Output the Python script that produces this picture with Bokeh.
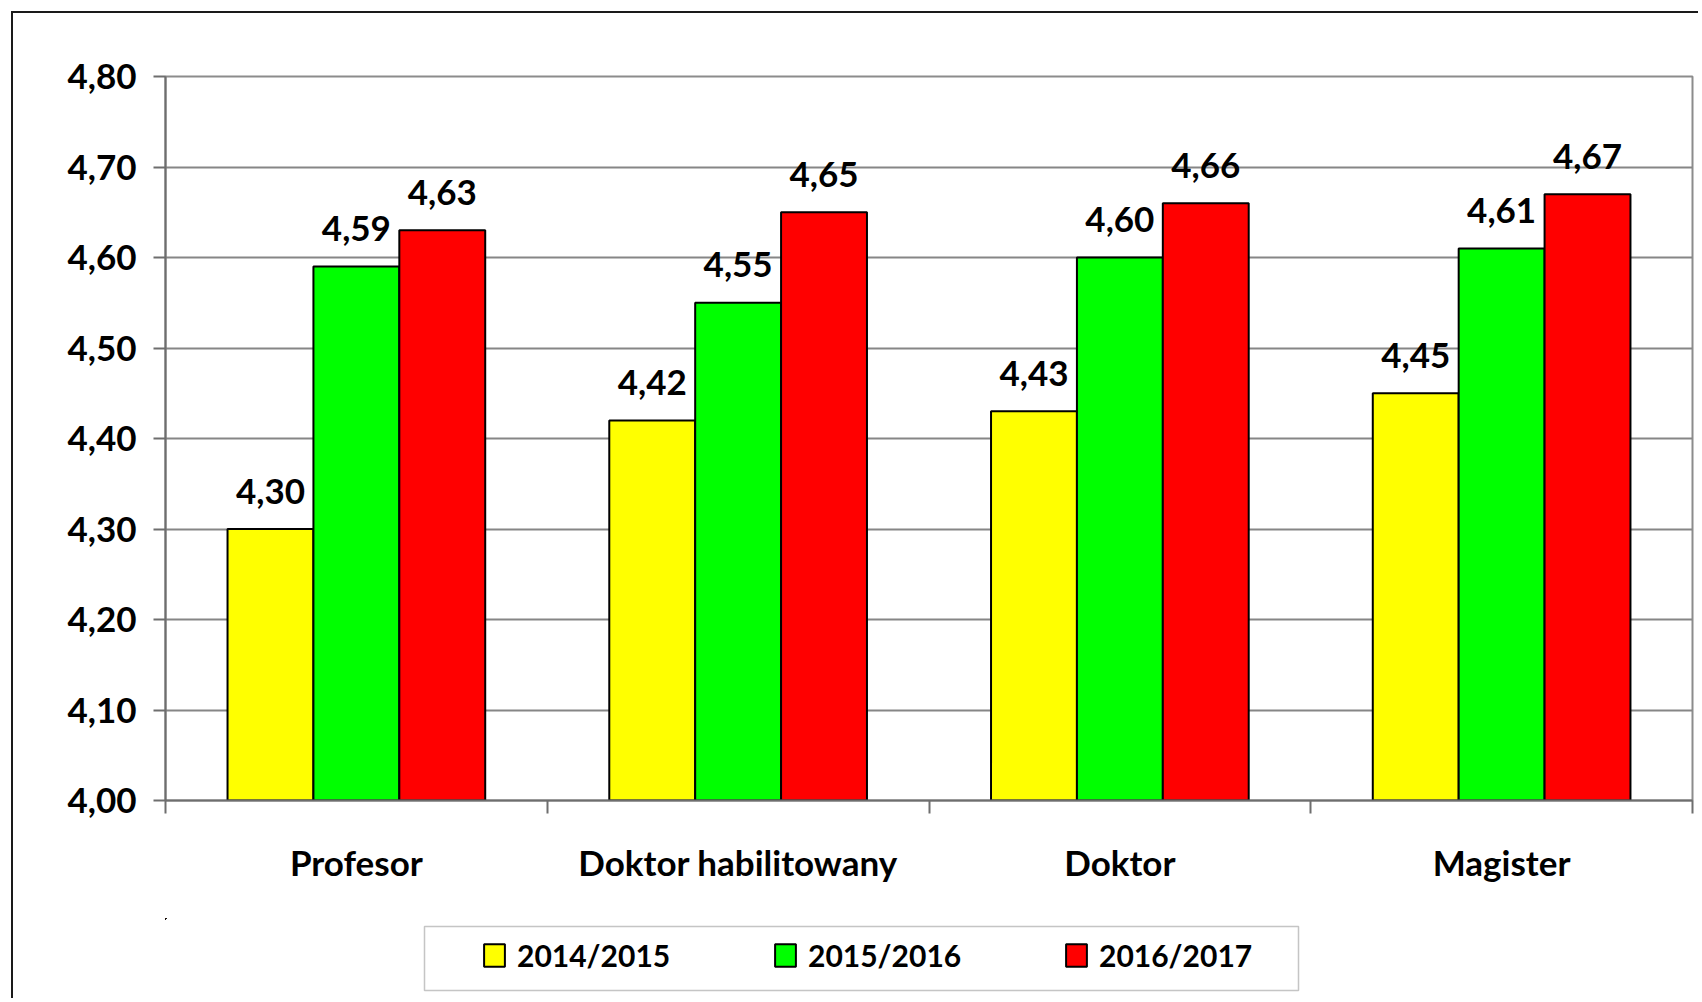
from bokeh.plotting import figure
from bokeh.layouts import column
from bokeh.models import ColumnDataSource, FixedTicker, Legend, LegendItem, BoxAnnotation
from bokeh.transform import dodge
from bokeh.core.properties import value
from bokeh.embed import file_html
from bokeh.resources import INLINE

categories = ["Profesor", "Doktor habilitowany", "Doktor", "Magister"]
series_names = ["2014/2015", "2015/2016", "2016/2017"]
values_2014_2015 = [4.30, 4.42, 4.43, 4.45]
values_2015_2016 = [4.59, 4.55, 4.60, 4.61]
values_2016_2017 = [4.63, 4.65, 4.66, 4.67]
y_ticks = [4.0, 4.1, 4.2, 4.3, 4.4, 4.5, 4.6, 4.7, 4.8]
y_tick_labels = ["4,00", "4,10", "4,20", "4,30", "4,40", "4,50", "4,60", "4,70", "4,80"]
colors = ["#FFFF00", "#00FF00", "#FF0000"]

FONT = "Lato"
series = [values_2014_2015, values_2015_2016, values_2016_2017]

x_centers = [i + 0.5 for i in range(len(categories))]
data = {"x": x_centers}
for k, vals in enumerate(series):
    data[f"s{k}"] = vals
    data[f"t{k}"] = [f"{v:.2f}".replace(".", ",") for v in vals]
src = ColumnDataSource(data)

# ---- main chart ----
p = figure(width=1685, height=905, output_backend="svg", toolbar_location=None,
           x_range=(0, len(categories)), y_range=(y_ticks[0], y_ticks[-1]),
           min_border_left=152, min_border_top=63, min_border_right=6, min_border_bottom=118)
p.background_fill_color = "white"
p.border_fill_color = "white"
p.outline_line_color = "#8c8c8c"
p.outline_line_width = 2

p.xgrid.grid_line_color = None
p.ygrid.grid_line_color = "#868686"
p.ygrid.grid_line_width = 2
p.ygrid.ticker = FixedTicker(ticks=y_ticks)

ya = p.yaxis[0]
ya.ticker = FixedTicker(ticks=y_ticks)
ya.major_label_overrides = {t: l for t, l in zip(y_ticks, y_tick_labels)}
ya.axis_line_color = "#6e6e6e"
ya.axis_line_width = 2
ya.major_tick_line_color = "#6e6e6e"
ya.major_tick_line_width = 2
ya.major_tick_out = 12
ya.major_tick_in = 0
ya.minor_tick_line_color = None
ya.major_label_standoff = 17
ya.major_label_text_font = FONT
ya.major_label_text_font_size = "35px"
ya.major_label_text_font_style = "bold"
ya.major_label_text_color = "black"

xa = p.xaxis[0]
xa.ticker = FixedTicker(ticks=x_centers, minor_ticks=list(range(len(categories) + 1)))
xa.major_label_overrides = {x: c for x, c in zip(x_centers, categories)}
xa.axis_line_color = "#6e6e6e"
xa.axis_line_width = 2
xa.major_tick_line_color = None
xa.minor_tick_line_color = "#6e6e6e"
xa.minor_tick_line_width = 2
xa.minor_tick_out = 13
xa.minor_tick_in = 0
xa.major_label_standoff = 27
xa.major_label_text_font = FONT
xa.major_label_text_font_size = "35px"
xa.major_label_text_font_style = "bold"
xa.major_label_text_color = "black"

bw = 0.225
offsets = [-bw, 0.0, bw]
for k in range(3):
    p.vbar(x=dodge("x", offsets[k], range=p.x_range), top=f"s{k}", bottom=y_ticks[0],
           width=bw, source=src, fill_color=colors[k], line_color="black", line_width=2)
    p.text(x=dodge("x", offsets[k], range=p.x_range), y=f"s{k}", text=f"t{k}", source=src,
           text_align="center", text_baseline="alphabetic", y_offset=-38,
           text_font=value(FONT), text_font_size="35px", text_font_style="bold", text_color="black")

# ---- legend strip ----
p2 = figure(width=1685, height=80, output_backend="svg", toolbar_location=None,
            x_range=(100, 101), y_range=(0, 1), min_border=0,
            x_axis_location=None, y_axis_location=None)
p2.grid.visible = False
p2.outline_line_color = None
p2.background_fill_color = "white"
p2.border_fill_color = "white"
leg_renderers = []
for k in range(3):
    r = p2.vbar(x=dodge("x", offsets[k], range=p2.x_range), top=f"s{k}", bottom=y_ticks[0],
                width=bw, source=src, fill_color=colors[k], line_color="black", line_width=2)
    leg_renderers.append(r)

legend = Legend(items=[LegendItem(label=n, renderers=[r]) for n, r in zip(series_names, leg_renderers)],
                orientation="horizontal", location=(316, 25), padding=0, margin=0,
                border_line_color=None, background_fill_alpha=0,
                glyph_width=26, glyph_height=28, label_standoff=10, spacing=95,
                label_width=160,
                label_text_font=FONT, label_text_font_size="30px", label_text_font_style="bold",
                label_text_color="black", label_text_baseline="middle")
p2.add_layout(legend)
p2.add_layout(BoxAnnotation(left=259, right=1133, top=8, bottom=72,
                            left_units="screen", right_units="screen",
                            top_units="screen", bottom_units="screen",
                            fill_color=None, line_color="#404040", line_width=1.5))

layout = column(p, p2, spacing=0)
layout.margin = (11, 0, 0, 11)
layout.styles = {"border-left": "2px solid #1a1a1a", "border-top": "2px solid #1a1a1a"}

open("out.html", "w").write(file_html(layout, INLINE))
